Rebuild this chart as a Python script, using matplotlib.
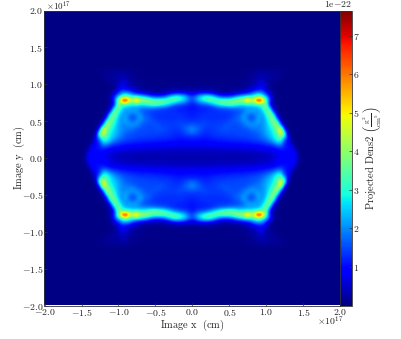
import numpy as np
import matplotlib
matplotlib.use('Agg')
import matplotlib.pyplot as plt

plt.rcParams['font.family'] = 'cmr10'
plt.rcParams['mathtext.fontset'] = 'cm'
plt.rcParams['axes.formatter.use_mathtext'] = True

# upper right quadrant of the map, in 1e-22
# columns are x = 0, 0.05, 0.10 ... rows are y = 0.025, 0.075, 0.125 ... (1e17 cm)
step = 0.05
background = 0.05
dens = [
    [.35, .35, .35, .35, .35, .35, .35, .35, .35, .35, .35, .35, .35, .35, .35, .35, .35, .38, .40, .42, .45, .50, .60, .75, .85, .90, .95, 1.0, .85, .12],
    [.40, .40, .40, .40, .40, .40, .40, .42, .42, .42, .42, .42, .42, .45, .45, .45, .45, .48, .50, .52, .55, .60, .70, .85, .95, 1.0, 1.0, .95, .65, .08],
    [.60, .60, .58, .58, .60, .60, .60, .62, .62, .62, .62, .62, .65, .65, .68, .68, .70, .72, .75, .80, .85, .90, .95, 1.1, 1.2, 1.1, 1.0, .95, .25],
    [.85, .85, .80, .80, .85, .85, .85, .85, .90, .90, .90, .90, .95, .95, 1.0, 1.0, 1.0, 1.05, 1.1, 1.15, 1.25, 1.35, 1.5, 1.9, 2.0, 1.2, 1.0, .55, .08],
    [1.05, 1.05, 1.0, 1.0, 1.0, 1.05, 1.05, 1.1, 1.1, 1.15, 1.15, 1.2, 1.2, 1.2, 1.2, 1.25, 1.3, 1.35, 1.4, 1.5, 1.7, 1.9, 2.3, 2.8, 2.9, 1.4, .95, .15],
    [1.2, 1.2, 1.2, 1.15, 1.15, 1.2, 1.25, 1.3, 1.3, 1.3, 1.35, 1.35, 1.35, 1.4, 1.4, 1.45, 1.5, 1.55, 1.6, 1.8, 2.0, 2.3, 2.7, 3.2, 3.7, 2.6, .70, .08],
    [1.7, 1.6, 1.4, 1.3, 1.25, 1.3, 1.35, 1.4, 1.4, 1.45, 1.45, 1.45, 1.5, 1.5, 1.5, 1.5, 1.55, 1.6, 1.7, 1.9, 2.2, 2.5, 2.8, 3.4, 4.8, 3.6, .30, .06],
    [2.0, 1.8, 1.6, 1.4, 1.35, 1.35, 1.4, 1.45, 1.55, 1.55, 1.5, 1.5, 1.5, 1.5, 1.5, 1.6, 1.7, 1.8, 1.9, 2.0, 2.3, 2.6, 3.0, 3.8, 5.6, 1.6, .12],
    [1.8, 1.7, 1.6, 1.5, 1.4, 1.4, 1.4, 1.45, 1.45, 1.6, 1.55, 1.5, 1.5, 1.6, 1.7, 1.8, 2.1, 2.0, 1.9, 2.0, 2.3, 2.8, 3.4, 4.4, 2.9, .40, .06],
    [1.4, 1.4, 1.4, 1.45, 1.45, 1.4, 1.4, 1.4, 1.4, 1.45, 1.55, 1.6, 1.6, 1.7, 1.9, 2.2, 1.9, 2.1, 2.2, 2.0, 2.4, 3.0, 3.8, 4.0, .90, .12],
    [1.25, 1.3, 1.3, 1.35, 1.3, 1.3, 1.3, 1.3, 1.35, 1.35, 1.4, 1.5, 1.7, 1.8, 2.2, 1.8, 1.5, 1.8, 2.3, 2.0, 2.5, 3.3, 4.2, 1.9, .25, .07],
    [1.15, 1.2, 1.25, 1.3, 1.3, 1.3, 1.3, 1.3, 1.3, 1.3, 1.35, 1.45, 1.6, 1.7, 2.2, 1.9, 1.6, 1.9, 2.2, 2.1, 2.8, 3.9, 3.4, .70, .10],
    [1.1, 1.15, 1.2, 1.2, 1.25, 1.3, 1.3, 1.35, 1.35, 1.35, 1.4, 1.45, 1.5, 1.6, 1.8, 2.2, 2.2, 2.2, 2.1, 2.4, 3.3, 4.0, 1.4, .20, .07],
    [1.05, 1.1, 1.15, 1.2, 1.2, 1.25, 1.35, 1.5, 1.6, 1.7, 1.8, 1.85, 1.9, 1.95, 2.0, 2.1, 2.1, 2.2, 2.3, 2.9, 4.0, 2.4, .45, .10],
    [1.1, 1.3, 1.5, 1.6, 1.8, 2.1, 2.6, 3.0, 3.4, 3.6, 3.7, 3.6, 3.3, 3.0, 3.0, 3.2, 3.1, 3.3, 3.6, 3.5, 3.8, 1.1, .20, .07],
    [1.5, 1.9, 2.5, 2.9, 3.3, 3.5, 3.6, 3.6, 3.6, 3.6, 3.5, 3.8, 4.2, 4.3, 4.5, 6.2, 4.6, 5.4, 7.6, 6.2, 3.6, 1.3, .35, .10],
    [1.5, 1.9, 2.6, 3.0, 3.3, 3.1, 2.6, 1.9, 1.5, 1.4, 1.5, 1.7, 2.2, 2.6, 2.9, 3.2, 3.2, 3.4, 4.0, 3.3, 2.4, 1.3, .25, .07],
    [.55, .70, .90, 1.0, 1.0, .85, .60, .45, .35, .30, .30, .35, .45, .60, .80, 1.0, 1.4, 2.0, 2.2, 2.0, 1.2, .50, .12, .06],
    [.18, .20, .22, .22, .22, .20, .18, .15, .12, .12, .12, .15, .15, .18, .25, .35, .55, .80, 1.0, 1.1, .60, .20, .08],
    [.10, .10, .10, .10, .10, .10, .08, .08, .08, .08, .08, .08, .10, .12, .15, .22, .30, .40, .65, .80, .35, .15, .07],
    [.08, .08, .08, .08, .08, .08, .08, .08, .08, .08, .08, .08, .08, .08, .12, .15, .20, .30, .50, .60, .30, .20, .15, .10],
    [.07, .07, .07, .07, .07, .07, .07, .07, .07, .07, .07, .07, .07, .07, .10, .12, .15, .22, .35, .40, .30, .20, .18, .14, .10],
    [.06, .06, .06, .06, .06, .06, .06, .06, .06, .06, .06, .06, .06, .06, .08, .10, .12, .18, .25, .28, .22, .20, .18, .15, .12, .08],
    [.05, .05, .05, .05, .05, .05, .05, .05, .05, .05, .05, .05, .05, .05, .06, .08, .10, .14, .18, .20, .18, .16, .15, .14, .12, .10],
]
xy_ticks = [-2.0, -1.5, -1.0, -0.5, 0.0, 0.5, 1.0, 1.5, 2.0]
cbar_ticks = [1, 2, 3, 4, 5, 6, 7]
vmin, vmax = 0.0, 7.66

# rest of the quadrant out to 2e17 is flat background
nx = int(2.0 / step) + 1
ny = int(2.0 / step)
top = np.full((ny, nx), background)
for i, row in enumerate(dens):
    top[i, :len(row)] = row

# the map mirrors about both axes
right = np.hstack([top[:, :0:-1], top])
full = np.vstack([right[::-1], right])

fig = plt.figure(figsize=(4.02, 3.39), dpi=100)
ax = fig.add_axes([44.5 / 402, 33.5 / 339, 296 / 402, 295 / 339])
im = ax.imshow(full, origin='lower', cmap='jet', vmin=vmin, vmax=vmax, aspect='auto', interpolation='bicubic',
               extent=[-2.0 - step / 2, 2.0 + step / 2, -2.0, 2.0])
ax.set_xlim(-2, 2)
ax.set_ylim(-2, 2)

labels = ['$%.1f$' % t for t in xy_ticks]
ax.set_xticks(xy_ticks)
ax.set_xticklabels(labels)
ax.set_yticks(xy_ticks)
ax.set_yticklabels(labels)
ax.tick_params(direction='in', length=2, width=0.5, labelsize=7, pad=1, color='#333333', labelcolor='#222222')
ax.set_xlabel(r'$\mathrm{Image\ x\ \ (cm)}$', fontsize=7.5, labelpad=0, color='#222222')
ax.set_ylabel(r'$\mathrm{Image\ y\ \ (cm)}$', fontsize=7.5, color='#222222')
ax.yaxis.set_label_coords(-0.058, 0.5)
for s in ax.spines.values():
    s.set_linewidth(0.6)
    s.set_color('#333333')

ax.text(0.966, -0.053, r'$\times 10^{17}$', transform=ax.transAxes, ha='center', va='center', fontsize=7, color='#222222')
ax.text(0.006, 1.015, r'$\times 10^{17}$', transform=ax.transAxes, ha='left', va='center', fontsize=6.5, color='#222222')

cax = fig.add_axes([340.5 / 402, 33.5 / 339, 11.5 / 402, 295 / 339])
cb = fig.colorbar(im, cax=cax)
cb.set_ticks(cbar_ticks)
cb.set_ticklabels(['$%d$' % t for t in cbar_ticks])
cb.ax.tick_params(direction='in', length=2, width=0.5, labelsize=7, pad=1, color='#333333', labelcolor='#222222')
cb.outline.set_linewidth(0.6)
cb.outline.set_edgecolor('#333333')
cb.set_label(r'$\mathrm{Projected\ Dens2}\ \left(\frac{\mathrm{g}^{2}}{\mathrm{cm}^{5}}\right)$', fontsize=7.5, color='#222222')
cb.ax.yaxis.set_label_coords(1.85, 0.5)
cax.text(1.0, 1.004, r'$\mathrm{1e{-}22}$', transform=cax.transAxes, ha='right', va='bottom', fontsize=7, color='#222222')

fig.savefig('out.png', dpi=100)
